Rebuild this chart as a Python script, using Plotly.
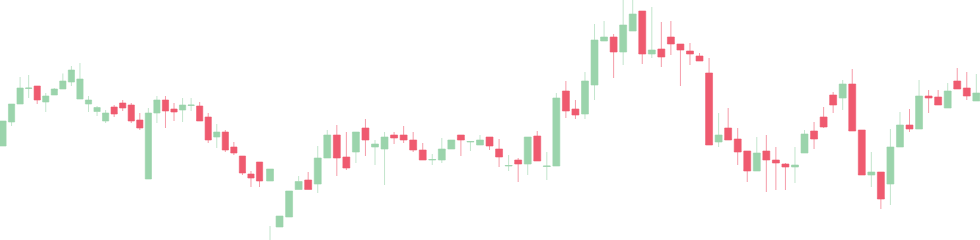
import plotly.graph_objects as go

# Session index of each candle
day = list(range(106))

open_ = [94, 118, 136, 151.5, 154, 138, 145, 151, 158, 141,
         136, 128.5, 119, 133, 137, 135, 120, 61, 127, 140,
         131, 130, 134.5, 134, 123, 103, 108, 93, 84, 66,
         78, 59, 13, 23, 50.5, 60, 56, 82, 105, 83,
         88, 112, 93, 91, 105, 105, 100, 90, 80, 80,
         91, 105, 98, 95, 103, 91, 74, 80, 76, 104,
         73.5, 74, 149, 131, 126, 155, 199, 203, 188, 209,
         229, 186, 191, 203, 196, 189, 184, 167, 98, 112,
         101, 89, 69, 89, 80, 76, 73, 87, 109, 123,
         145, 142, 156, 110, 65, 68, 56, 93, 115, 111,
         144, 143, 132, 159, 152, 139]
high = [119, 136, 163, 165, 154, 147, 152, 166.5, 174, 177,
        144, 134, 130, 135, 140, 137, 127, 132, 144, 144,
        137, 142, 142, 138, 127, 116, 110, 98, 84, 69,
        78, 71, 24, 49, 64, 68, 94, 110, 115, 108,
        108, 121, 100, 108, 108, 114, 108, 97, 86, 102,
        100, 105, 98.5, 105, 103, 101, 85, 82, 103, 109,
        88, 147, 159, 140, 168, 216, 219, 206, 242, 245,
        229, 233, 218, 219, 196, 197, 187, 182, 127, 132,
        112, 89, 103, 105, 93, 77, 93, 110, 118, 133,
        148, 160, 171, 110, 88, 68, 111, 128, 131, 160,
        150, 150, 157, 172, 168, 166]
low = [94, 114, 136, 142, 136, 128, 145, 151, 154, 141,
       128, 124, 117, 123, 129, 117, 110, 61, 117, 112,
       119, 118, 129, 119, 97, 92, 88, 85, 65, 53,
       53, 59, 13, 23, 50.5, 50.5, 47, 82, 64, 70,
       77, 84, 75, 55, 96, 97, 88, 80, 75, 77,
       91, 84, 89, 95, 90, 73, 69, 58, 65, 79,
       60, 74, 122, 121, 121, 140, 199, 162, 175, 209,
       176, 182, 173, 185, 154, 175, 179, 95, 93, 100,
       75, 58, 69, 48, 50, 50, 57, 87, 91, 112,
       127, 130, 109, 65, 53, 31, 35, 93, 108, 111,
       127, 135, 132, 151, 140, 139]
close = [119, 136, 152, 152, 140, 144, 151, 159, 170, 161,
         140, 132.5, 127, 126, 132, 119, 112, 127, 140, 129,
         128, 135, 135, 119, 100, 108, 90, 87, 67, 62,
         59, 71, 24, 49, 58.5, 50.5, 82, 105, 82, 72,
         108, 100, 96, 103, 102, 100, 90, 80, 80.5, 91,
         100, 100, 98.5, 100, 94, 83, 74.5, 76, 103, 79,
         74, 142, 129, 125, 159, 200, 203, 188, 215, 226,
         186, 190, 183, 196, 190, 186, 179, 95, 105, 100,
         88, 69, 87, 80, 77, 73, 75, 106, 101, 113,
         135, 156, 109, 65, 68, 41, 93, 115, 111, 144,
         142, 135, 149, 151, 144, 147]

# Stray low-hanging wick seen at session 31
extra_day = [31]
extra_open = [-5]
extra_high = [14]
extra_low = [-5]
extra_close = [-5]

SPLIT = 31  # sessions drawn on the narrower left time scale

UP_FILL = "#9bd4ac"
UP_LINE = "rgba(155,212,172,0.6)"
DN_FILL = "#ef5a6f"
DN_LINE = "rgba(239,90,111,0.6)"


def candle(xs, o, h, l, c, xaxis):
    return go.Candlestick(
        x=xs, open=o, high=h, low=l, close=c, xaxis=xaxis, yaxis="y",
        increasing=dict(fillcolor=UP_FILL, line=dict(color=UP_LINE, width=1)),
        decreasing=dict(fillcolor=DN_FILL, line=dict(color=DN_LINE, width=1)),
        whiskerwidth=0, showlegend=False, hoverinfo="skip",
    )


fig = go.Figure()
fig.add_trace(candle(day[:SPLIT], open_[:SPLIT], high[:SPLIT], low[:SPLIT], close[:SPLIT], "x"))
fig.add_trace(candle(day[SPLIT:], open_[SPLIT:], high[SPLIT:], low[SPLIT:], close[SPLIT:], "x2"))
fig.add_trace(candle(extra_day, extra_open, extra_high, extra_low, extra_close, "x2"))

b = 265 / 980
hidden = dict(visible=False, showgrid=False, zeroline=False, showticklabels=False,
              rangeslider=dict(visible=False), fixedrange=True)
fig.update_layout(
    width=980, height=240,
    margin=dict(l=0, r=0, t=0, b=0),
    paper_bgcolor="white", plot_bgcolor="white",
    boxgap=0.27, boxgroupgap=0,
    xaxis=dict(domain=[0, b], range=[-0.351, 30.64], **hidden),
    xaxis2=dict(domain=[b, 1], range=[30.476, 105.385], anchor="y", **hidden),
    yaxis=dict(range=[0, 240], visible=False, showgrid=False, zeroline=False, fixedrange=True),
    showlegend=False,
)

fig.write_html("out.html", config={"displayModeBar": False})
